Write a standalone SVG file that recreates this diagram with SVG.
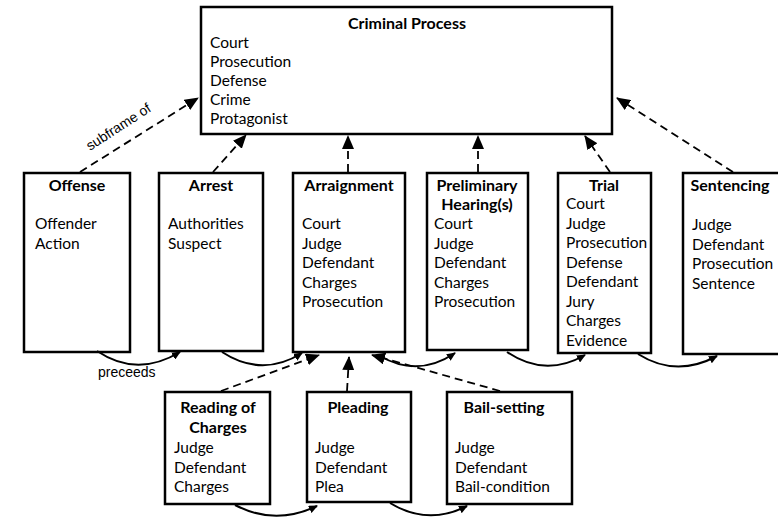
<svg xmlns="http://www.w3.org/2000/svg" width="778" height="518" viewBox="0 0 778 518">
<defs>
<style>
.box{fill:#fff;stroke:#000;stroke-width:2.5}
.t{font-family:Lato,"Open Sans",sans-serif;font-size:15.5px;fill:#000}
.b{font-weight:bold;font-size:16px;text-anchor:middle}
.lbl{font-family:"Liberation Sans",Arial,sans-serif;font-size:14px;fill:#000}
.dash{fill:none;stroke:#000;stroke-width:1.8;stroke-dasharray:8 5;marker-end:url(#ah)}
.arc{fill:none;stroke:#000;stroke-width:2;marker-end:url(#sh)}
</style>
<marker id="ah" viewBox="0 0 14 12" markerWidth="14" markerHeight="12" refX="13" refY="6" orient="auto" markerUnits="userSpaceOnUse">
<path d="M0,0 L14,6 L0,12 z" fill="#000"/>
</marker>
<marker id="sh" viewBox="0 0 9 8" markerWidth="9" markerHeight="8" refX="8" refY="4" orient="auto" markerUnits="userSpaceOnUse">
<path d="M0,0 L9,4 L0,8 z" fill="#000"/>
</marker>
</defs>
<rect width="778" height="518" fill="#fff"/>

<g id="criminal-process">
<rect class="box" x="201" y="7" width="411" height="127"/>
<text class="t b" x="407" y="29">Criminal Process</text>
<text class="t" x="210" y="48">Court</text>
<text class="t" x="210" y="67">Prosecution</text>
<text class="t" x="210" y="86">Defense</text>
<text class="t" x="210" y="105">Crime</text>
<text class="t" x="210" y="124">Protagonist</text>
</g>

<g id="offense">
<rect class="box" x="24" y="173" width="106" height="179"/>
<text class="t b" x="77" y="191">Offense</text>
<text class="t" x="35" y="229">Offender</text>
<text class="t" x="35" y="248.5">Action</text>
</g>

<g id="arrest">
<rect class="box" x="159" y="173" width="104" height="178"/>
<text class="t b" x="211" y="191">Arrest</text>
<text class="t" x="168" y="229">Authorities</text>
<text class="t" x="168" y="248.5">Suspect</text>
</g>

<g id="arraignment">
<rect class="box" x="293" y="173" width="112" height="179"/>
<text class="t b" x="349" y="191">Arraignment</text>
<text class="t" x="302" y="229">Court</text>
<text class="t" x="302" y="248.5">Judge</text>
<text class="t" x="302" y="268">Defendant</text>
<text class="t" x="302" y="287.5">Charges</text>
<text class="t" x="302" y="307">Prosecution</text>
</g>

<g id="preliminary-hearings">
<rect class="box" x="427" y="173" width="101" height="177"/>
<text class="t b" x="477" y="191">Preliminary</text>
<text class="t b" x="477" y="210">Hearing(s)</text>
<text class="t" x="434" y="229">Court</text>
<text class="t" x="434" y="248.5">Judge</text>
<text class="t" x="434" y="268">Defendant</text>
<text class="t" x="434" y="287.5">Charges</text>
<text class="t" x="434" y="307">Prosecution</text>
</g>

<g id="trial">
<rect class="box" x="558" y="173" width="93" height="180"/>
<text class="t b" x="604" y="191">Trial</text>
<text class="t" x="566" y="209">Court</text>
<text class="t" x="566" y="228.5">Judge</text>
<text class="t" x="566" y="248">Prosecution</text>
<text class="t" x="566" y="267.5">Defense</text>
<text class="t" x="566" y="287">Defendant</text>
<text class="t" x="566" y="306.5">Jury</text>
<text class="t" x="566" y="326">Charges</text>
<text class="t" x="566" y="345.5">Evidence</text>
</g>

<g id="sentencing">
<rect class="box" x="683" y="173" width="110" height="181"/>
<text class="t b" x="730" y="191">Sentencing</text>
<text class="t" x="692" y="230">Judge</text>
<text class="t" x="692" y="249.5">Defendant</text>
<text class="t" x="692" y="269">Prosecution</text>
<text class="t" x="692" y="288.5">Sentence</text>
</g>

<g id="reading-of-charges">
<rect class="box" x="165" y="392" width="105" height="112"/>
<text class="t b" x="218" y="413">Reading of</text>
<text class="t b" x="218" y="433">Charges</text>
<text class="t" x="174" y="453">Judge</text>
<text class="t" x="174" y="472.5">Defendant</text>
<text class="t" x="174" y="492">Charges</text>
</g>

<g id="pleading">
<rect class="box" x="307" y="392" width="104" height="110"/>
<text class="t b" x="358" y="413">Pleading</text>
<text class="t" x="315" y="453">Judge</text>
<text class="t" x="315" y="472.5">Defendant</text>
<text class="t" x="315" y="492">Plea</text>
</g>

<g id="bail-setting">
<rect class="box" x="447" y="392" width="125" height="112"/>
<text class="t b" x="504" y="413">Bail-setting</text>
<text class="t" x="455" y="453">Judge</text>
<text class="t" x="455" y="472.5">Defendant</text>
<text class="t" x="455" y="492">Bail-condition</text>
</g>

<g id="connectors">
<path class="dash" d="M80,172 L198,98"/>
<path class="dash" d="M213,172 L246,135"/>
<path class="dash" d="M348,172 L348,136"/>
<path class="dash" d="M478,172 L478,136"/>
<path class="dash" d="M610,172 L585,136"/>
<path class="dash" d="M733,172 L617,98"/>
<path class="dash" d="M221,391 L319,355"/>
<path class="dash" d="M347,391 L349,357"/>
<path class="dash" d="M500,391 L372,355"/>
<path class="arc" d="M97,351 Q137,378 180,352"/>
<path class="arc" d="M222,352 Q262,378 302,353"/>
<path class="arc" d="M380,356 Q418,378 455,353"/>
<path class="arc" d="M507,352 Q545,378 585,355"/>
<path class="arc" d="M638,354 Q676,378 717,356"/>
<path class="arc" d="M235,505 Q275,526 317,506"/>
<path class="arc" d="M390,503 Q428,526 467,506"/>
<text class="lbl" x="98" y="377">preceeds</text>
<text class="lbl" transform="translate(90,151) rotate(-33)">subframe of</text>
</g>
</svg>
